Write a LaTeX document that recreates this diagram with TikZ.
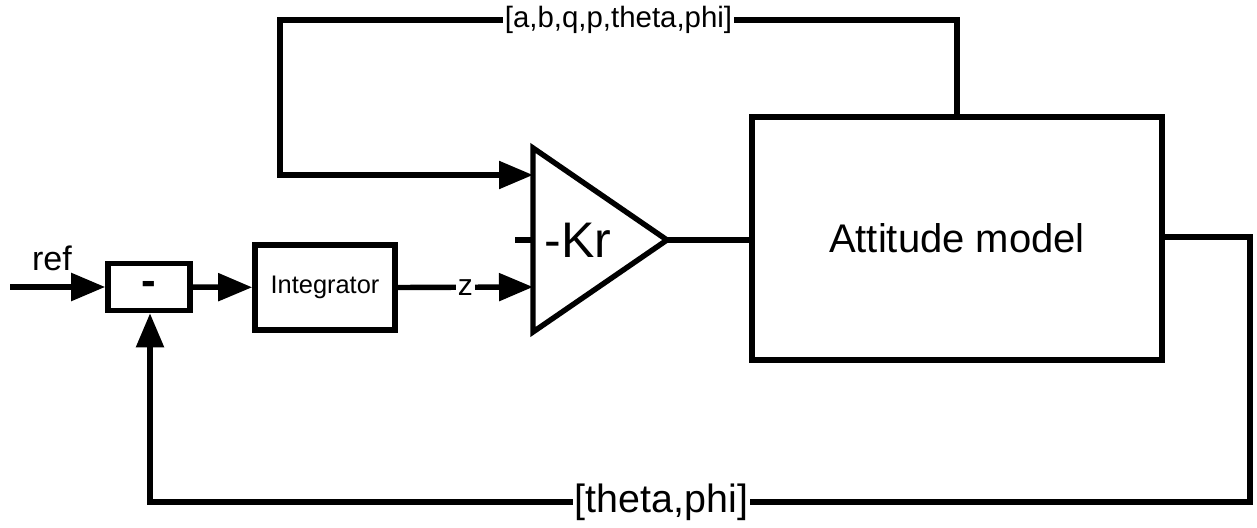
\documentclass[tikz,border=0pt]{standalone}
\usepackage{fontspec}
\setmainfont{Liberation Sans}
\usetikzlibrary{arrows.meta, positioning}

\begin{document}
\begin{tikzpicture}[x=0.5pt, y=-0.5pt,
	linea/.style={line width=2.7pt},
	flecha/.style={linea, -{Triangle[length=17pt, width=13.5pt]}},
	bloque/.style={draw, line width=2.8pt, inner sep=0pt},
	etiq/.style={fill=white, inner sep=1pt}]

	\useasboundingbox (0,0) rectangle (1257,528);

	% bloques
	\node[bloque, minimum width=41pt, minimum height=23.5pt,
		font=\fontsize{22}{24}\bfseries\selectfont] (resta) at (149,287) {\smash{\raisebox{-4.5pt}{-}}};
	\node[bloque, minimum width=70pt, minimum height=42.5pt,
		font=\fontsize{12.7}{15}\selectfont] (integ) at (325,287.5) {Integrator};
	\node[bloque, minimum width=205pt, minimum height=121.5pt,
		font=\fontsize{20}{24}\selectfont] (modelo) at (957,238.5) {Attitude model};

	% ganancia
	\draw[linea, line join=miter] (533,148) coordinate (gsup)
		-- (667,240) coordinate (gpunta)
		-- (533,332) coordinate (ginf) -- cycle;
	\node[font=\fontsize{25}{30}\selectfont, inner sep=0pt] (gan) at (578,240) {-Kr};
	\coordinate (gin1) at (533,175);
	\coordinate (gin2) at (533,287);
	\coordinate (gmed) at (533,240);
	\coordinate (gtic) at (515,240);
	\draw[linea] (gtic) -- (gmed);

	% senales
	\coordinate (entrada) at (10,287);
	\node[font=\fontsize{17}{20}\selectfont] (ref) at (52,258) {ref};
	\draw[flecha] (entrada) -- (resta.west);
	\draw[flecha] (resta) -- (integ);
	\draw[flecha] (integ.east) -- node[etiq, font=\fontsize{15}{18}\selectfont] (z) {z} (gin2);
	\draw[linea] (gpunta) -- (modelo.west |- gpunta);

	% realimentaciones
	\coordinate (a1) at (957,20);
	\coordinate (a2) at (280,20);
	\coordinate (a3) at (280,175);
	\draw[flecha] (modelo.north) -- (a1)
		-- node[etiq, pos=0.5, font=\fontsize{14.7}{17}\selectfont] (vest) {[a,b,q,p,theta,phi]} (a2)
		-- (a3) -- (gin1);

	\coordinate (b0) at (1162,237);
	\coordinate (b1) at (1250,237);
	\coordinate (b2) at (1250,502);
	\coordinate (b3) at (150,502);
	\draw[flecha] (b0) -- (b1) -- (b2)
		-- node[etiq, pos=0.535, font=\fontsize{19.7}{23}\selectfont] (ang) {[theta,phi]} (b3)
		-- (resta.south -| b3);
\end{tikzpicture}
\end{document}
